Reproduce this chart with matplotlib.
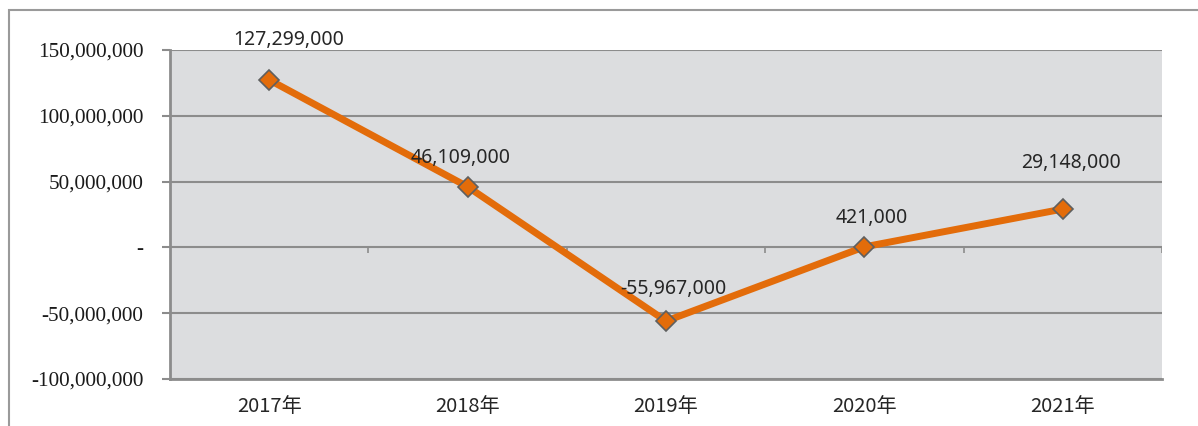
import matplotlib
matplotlib.use('Agg')
import matplotlib.pyplot as plt
import matplotlib.patches as mpatches
import numpy as np
from matplotlib.ticker import FuncFormatter

# data
years = ['2017年', '2018年', '2019年', '2020年', '2021年']
values = [127299000, 46109000, -55967000, 421000, 29148000]
yticks = [-100000000, -50000000, 0, 50000000, 100000000, 150000000]

# label offsets in points (dx, dy) -- picked by eye
label_offsets = [(14, 29), (-5, 21), (5, 23), (5, 21), (6, 33)]

LINE_COLOR = '#E36C0A'
GRID_COLOR = '#8C8C8C'
BG_COLOR = '#DCDDDF'

fig = plt.figure(figsize=(11.98, 4.26), dpi=100)
ax = fig.add_axes([170 / 1198, 1 - 379 / 426, 992 / 1198, 329 / 426])
ax.set_facecolor(BG_COLOR)

# outer chart border
fig.patches.append(mpatches.Rectangle(
    (9 / 1198, -0.05), 1.2, 1 - 10 / 426 + 0.05, transform=fig.transFigure,
    fill=False, edgecolor='#9A9A9A', linewidth=1.5))

x = np.arange(len(years))
ax.plot(x, values, color=LINE_COLOR, linewidth=5, zorder=3,
        marker='D', markersize=10, markerfacecolor=LINE_COLOR,
        markeredgecolor='#5F5F5F', markeredgewidth=1.2)

for xi, v, (dx, dy) in zip(x, values, label_offsets):
    ax.annotate(f'{v:,}', (xi, v), xytext=(dx, dy), textcoords='offset points',
                ha='center', va='center', fontsize=14, color='#262626',
                family='Noto Sans', zorder=4)

ax.set_xlim(-0.5, len(years) - 0.5)
ax.set_ylim(yticks[0], yticks[-1])
ax.set_yticks(yticks)
ax.yaxis.set_major_formatter(FuncFormatter(lambda v, p: '-' if v == 0 else f'{int(v):,}'))
for lbl in ax.get_yticklabels():
    lbl.set_family('Liberation Serif')
    lbl.set_fontsize(15.2)
    lbl.set_color('#1A1A1A')
ax.tick_params(axis='y', length=6, width=1.5, color=GRID_COLOR, pad=13)

ax.set_xticks(x)
ax.set_xticklabels(years, family=['Noto Sans CJK SC', 'DejaVu Sans'],
                   fontsize=14.5, color='#262626')
ax.tick_params(axis='x', length=0, pad=12)

ax.grid(axis='y', color=GRID_COLOR, linewidth=1.5, zorder=1)
ax.set_axisbelow(True)

# category axis crosses at zero, ticks between categories
bounds = np.arange(len(years)) + 0.5
tick_h = (yticks[-1] - yticks[0]) * 6 / 329
ax.vlines(bounds, -tick_h, 0, color=GRID_COLOR, linewidth=1.2, zorder=2)

for side in ['top', 'right']:
    ax.spines[side].set_visible(False)
for side in ['left', 'bottom']:
    ax.spines[side].set_color(GRID_COLOR)
    ax.spines[side].set_linewidth(2)

fig.savefig('out.png', dpi=100)
